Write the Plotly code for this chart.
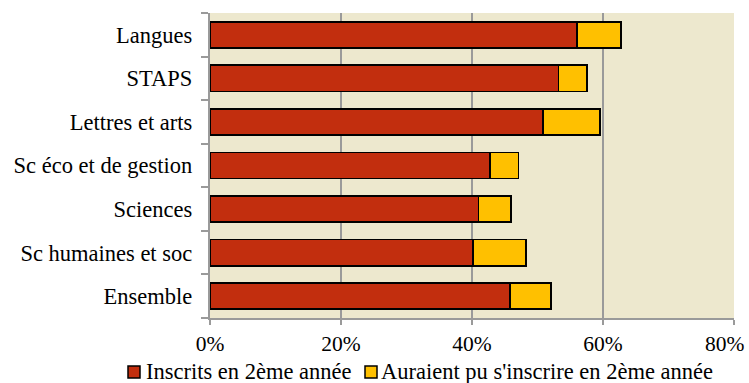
import plotly.graph_objects as go

categories = ["Ensemble", "Sc humaines et soc", "Sciences", "Sc éco et de gestion",
              "Lettres et arts", "STAPS", "Langues"]
inscrits = [45.8, 40.1, 41.0, 42.7, 50.8, 53.2, 56.0]
auraient = [6.3, 8.1, 4.9, 4.4, 8.8, 4.4, 6.8]
x_ticks = [0, 20, 40, 60, 80]
x_tick_labels = ["0%", "20%", "40%", "60%", "80%"]
series_names = ["Inscrits en 2ème année", "Auraient pu s'inscrire en 2ème année"]
series_colors = ["#C22E0E", "#FFC000"]

FONT = "Liberation Serif, Times New Roman, serif"
GRID = "#9A9A9A"

W, H = 749, 383
L, R, T, B = 210, 15, 13, 65
PW, PH = W - L - R, H - T - B

fig = go.Figure()
for vals, name, col in zip([inscrits, auraient], series_names, series_colors):
    fig.add_trace(go.Bar(
        y=categories, x=vals, orientation="h", name=name, showlegend=False,
        marker=dict(color=col, line=dict(color="#000000", width=1.8)),
    ))

# custom legend (pixel layout -> paper coords)
def px(p):
    return (p - L) / PW

def py(q):
    return (H - B - q) / PH

legend_items = [(128, 144), (365, 379)]
for (sq_x, tx), name, col in zip(legend_items, series_names, series_colors):
    fig.add_shape(type="rect", xref="paper", yref="paper",
                  x0=px(sq_x), x1=px(sq_x + 12), y0=py(378), y1=py(366),
                  fillcolor=col, line=dict(color="#000000", width=1.5))
    fig.add_annotation(xref="paper", yref="paper", x=px(tx), y=py(371),
                       xanchor="left", yanchor="middle", text=name,
                       showarrow=False, font=dict(family=FONT, size=22.5, color="#000"))

# last tick label: drawn at its axis value, pulled left to stay inside the page
shown_labels = x_tick_labels[:-1] + [""]
fig.add_annotation(xref="x", yref="paper", x=x_ticks[-1], y=py(344),
                   xanchor="right", yanchor="middle", xshift=13,
                   text=x_tick_labels[-1], showarrow=False,
                   font=dict(family=FONT, size=21.5, color="#000"))

fig.update_layout(
    barmode="stack",
    bargap=0.4,
    width=W, height=H,
    margin=dict(l=L, r=R, t=T, b=B, autoexpand=False),
    paper_bgcolor="white",
    plot_bgcolor="#EDE8CE",
    font=dict(family=FONT, size=22.5, color="#000000"),
    showlegend=False,
    xaxis=dict(range=[0, 80.001], tickvals=x_ticks, ticktext=shown_labels,
               tickfont=dict(size=21.5),
               showgrid=True, gridcolor=GRID, gridwidth=1.5,
               showline=True, linecolor=GRID, linewidth=1.5,
               ticks="outside", ticklen=5, tickcolor=GRID, tickwidth=1.5,
               zeroline=False, fixedrange=True, automargin=False),
    yaxis=dict(categoryorder="array", categoryarray=categories,
               showline=True, linecolor=GRID, linewidth=2,
               ticks="outside", tickson="boundaries", ticklen=7,
               tickcolor=GRID, tickwidth=1.5, showgrid=False,
               ticksuffix="  ", fixedrange=True, automargin=False),
)

fig.write_html("out.html", config={"displayModeBar": False},
               post_script="document.body.style.margin='0';document.body.style.overflow='hidden';")
